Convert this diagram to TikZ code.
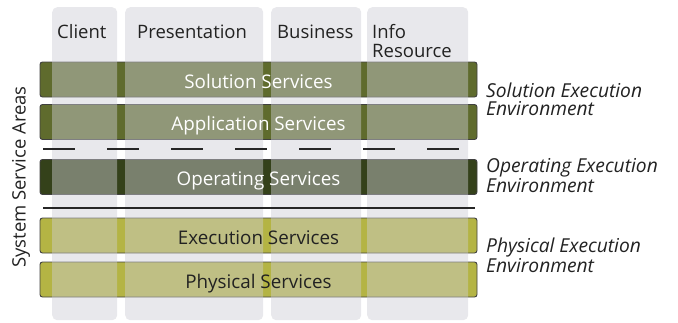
\documentclass[tikz,border=0pt]{standalone}
\usepackage{fontspec}
\setmainfont{Open Sans}
\usetikzlibrary{positioning}

\definecolor{colgray}{HTML}{CDCDD4}
\definecolor{solgreen}{HTML}{5F6B2D}
\definecolor{opgreen}{HTML}{34411A}
\definecolor{physyellow}{HTML}{B4B444}
\definecolor{inktext}{HTML}{222222}

\begin{document}
\begin{tikzpicture}[
    x=1pt, y=-1pt,
    column/.style={fill=colgray, fill opacity=0.45, draw=none, rounded corners=5pt, inner sep=0pt, anchor=north west, minimum height=313pt},
    bar/.style={draw=black!75, line width=0.9pt, rounded corners=2.5pt, minimum width=437pt, minimum height=35pt, inner sep=0pt},
    head/.style={font=\fontsize{18.5}{19}\selectfont, text=inktext, anchor=base west, inner sep=0pt, align=left},
    bartext/.style={font=\fontsize{18.8}{18}\selectfont, anchor=base, inner sep=0pt},
    envlabel/.style={font=\fontsize{19.2}{18}\selectfont\itshape, text=inktext, anchor=base west, inner sep=0pt, align=left},
    divider/.style={line width=2.6pt, draw=black!85}
  ]
  \useasboundingbox (0,0) rectangle (678,322);

  % service bars (drawn first, the columns lighten them)
  \node[bar, fill=solgreen] (solution) at (258.5,79.5) {};
  \node[bar, fill=solgreen] (application) at (258.5,122) {};
  \node[bar, fill=opgreen] (operating) at (258.5,177) {};
  \node[bar, fill=physyellow] (execution) at (258.5,235.5) {};
  \node[bar, fill=physyellow] (physical) at (258.5,279.5) {};

  % columns
  \node[column, minimum width=65pt] (client) at (52,7) {};
  \node[column, minimum width=138pt] (presentation) at (125,7) {};
  \node[column, minimum width=90pt] (business) at (271,7) {};
  \node[column, minimum width=101pt] (inforesource) at (367,7) {};

  % column headings (base = last line)
  \node[head] (client-h) at (57,38.5) {Client};
  \node[head] (presentation-h) at (137,38.5) {Presentation};
  \node[head] (business-h) at (277,38.5) {Business};
  \node[head] (inforesource-h) at (372,57) {Info\\Resource};

  % bar labels
  \node[bartext, text=white] (solution-t) at ([yshift=-8.5pt]solution.center) {Solution Services};
  \node[bartext, text=white] (application-t) at ([yshift=-8.5pt]application.center) {Application Services};
  \node[bartext, text=white] (operating-t) at ([yshift=-8.5pt]operating.center) {Operating Services};
  \node[bartext, text=inktext] (execution-t) at ([yshift=-8.5pt]execution.center) {Execution Services};
  \node[bartext, text=inktext] (physical-t) at ([yshift=-8.5pt]physical.center) {Physical Services};

  % separators
  \coordinate (dash-l) at (43,149);
  \coordinate (dash-r) at (475,149);
  \coordinate (line-l) at (43,208);
  \coordinate (line-r) at (475,208);
  \draw[divider, dash pattern=on 32pt off 32pt] (dash-l) -- (dash-r);
  \draw[divider] (line-l) -- (line-r);

  % side labels
  \node[font=\fontsize{18.5}{18}\selectfont, text=inktext, rotate=90, inner sep=0pt] (areas) at (21,177) {System Service Areas};

  \node[envlabel] (solution-env) at (486,115) {Solution Execution\\Environment};
  \node[envlabel] (operating-env) at (486,192) {Operating Execution\\Environment};
  \node[envlabel] (physical-env) at (486,272) {Physical Execution\\Environment};

\end{tikzpicture}
\end{document}
